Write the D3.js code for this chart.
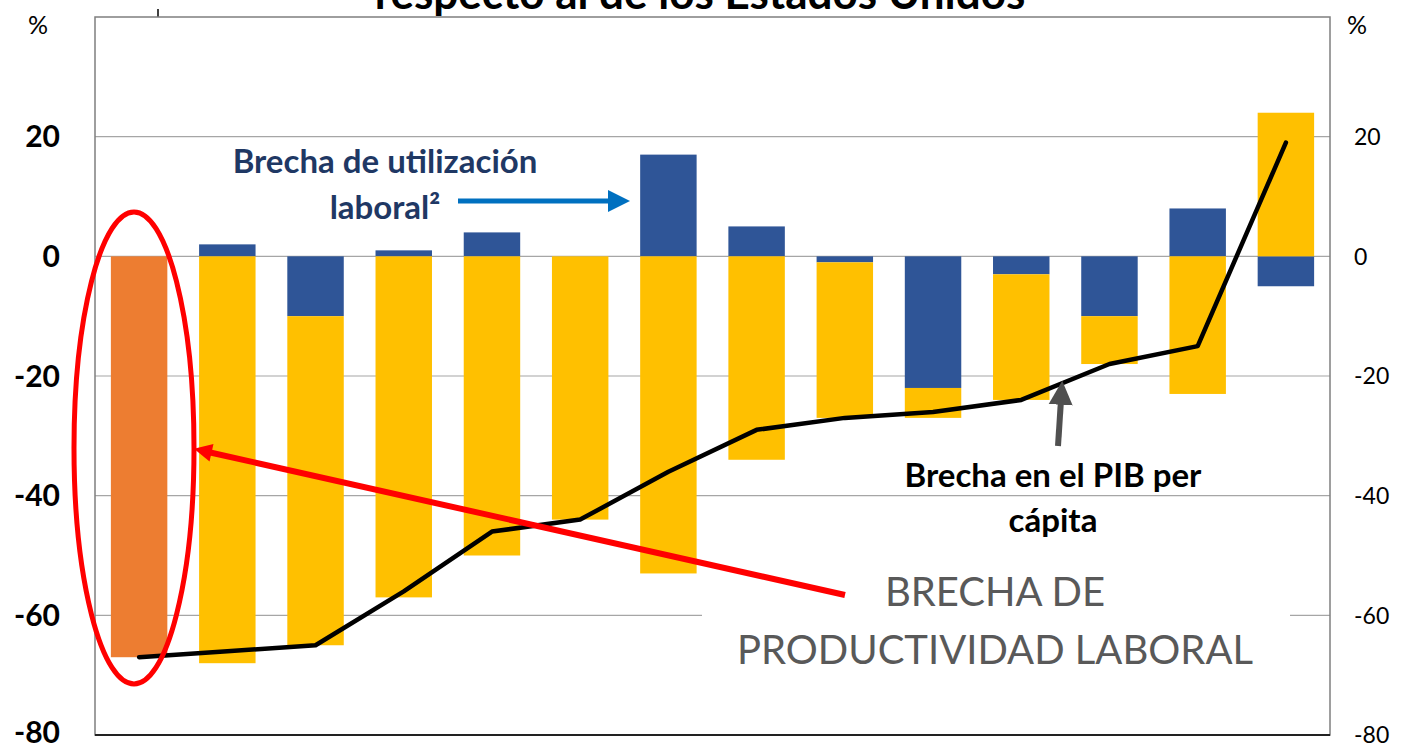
<!DOCTYPE html>
<html>
<head>
<meta charset="utf-8">
<script src="https://cdn.jsdelivr.net/npm/d3@7"></script>
<style>
  body { margin: 0; background: #fff; }
  svg { font-family: Lato, "Open Sans", sans-serif; }
</style>
</head>
<body>
<div id="chart"></div>
<script>
// 14 economies, ordered by GDP per capita gap
const categories = ["c1", "c2", "c3", "c4", "c5", "c6", "c7", "c8", "c9", "c10", "c11", "c12", "c13", "c14"];
const utilGap = [0, 2, -10, 1, 4, 0, 17, 5, -1, -22, -3, -10, 8, -5];
const prodGap = [-67, -68, -55, -57, -50, -44, -53, -34, -26, -5, -21, -8, -23, 24];
const gdpGap = [-67, -66, -65, -56, -46, -44, -36, -29, -27, -26, -24, -18, -15, 19];
const yTicks = [20, 0, -20, -40, -60, -80];

const width = 1403, height = 751;
const margin = { top: 17, right: 73, bottom: 16, left: 95 };

const svg = d3.select("#chart").append("svg")
    .attr("width", width)
    .attr("height", height);

const x = d3.scaleBand()
    .domain(categories)
    .range([margin.left, width - margin.right])
    .paddingInner(0.36)
    .paddingOuter(0.18);

const y = d3.scaleLinear()
    .domain([-80, 40])
    .range([height - margin.bottom, margin.top]);

// Title, clipped at the top of the picture as in the source
svg.append("text")
    .attr("x", 700).attr("y", 9)
    .attr("text-anchor", "middle")
    .attr("font-size", 44).attr("font-weight", "bold")
    .text("respecto al de los Estados Unidos");
svg.append("line")
    .attr("x1", 158).attr("x2", 158).attr("y1", 9).attr("y2", margin.top)
    .attr("stroke", "#000").attr("stroke-width", 1.5);

// Gridlines
svg.append("g")
    .selectAll("line")
    .data(yTicks.filter(d => d > -80))
    .join("line")
    .attr("x1", margin.left).attr("x2", width - margin.right)
    .attr("y1", d => y(d)).attr("y2", d => y(d))
    .attr("stroke", "#a6a6a6").attr("stroke-width", 1.2);

// Plot border
svg.append("rect")
    .attr("x", margin.left).attr("y", margin.top)
    .attr("width", width - margin.right - margin.left)
    .attr("height", y(-80) - margin.top)
    .attr("fill", "none").attr("stroke", "#7f7f7f").attr("stroke-width", 1.5);
svg.append("line")
    .attr("x1", margin.left).attr("x2", width - margin.right)
    .attr("y1", y(-80)).attr("y2", y(-80))
    .attr("stroke", "#222").attr("stroke-width", 2);

// White box behind the big label
svg.append("rect")
    .attr("x", 702).attr("y", 568)
    .attr("width", 588).attr("height", 122)
    .attr("fill", "#fff");

// Stacked bars (diverging)
const rows = categories.map((c, i) => ({ cat: c, util: utilGap[i], prod: prodGap[i] }));
const series = d3.stack()
    .keys(["util", "prod"])
    .offset(d3.stackOffsetDiverging)(rows);
const colors = { util: "#2F5597", prod: "#FFC000" };

svg.append("g")
    .selectAll("g")
    .data(series)
    .join("g")
    .selectAll("rect")
    .data(s => s.map(d => ({ key: s.key, d })))
    .join("rect")
    .attr("x", p => x(p.d.data.cat))
    .attr("width", x.bandwidth())
    .attr("y", p => y(Math.max(p.d[0], p.d[1])))
    .attr("height", p => Math.abs(y(p.d[0]) - y(p.d[1])))
    .attr("fill", p => (p.key === "prod" && p.d.data.cat === "c1") ? "#ED7D31" : colors[p.key]);

// GDP per capita gap line
const line = d3.line()
    .x((d, i) => x(categories[i]) + x.bandwidth() / 2)
    .y(d => y(d));
svg.append("path")
    .datum(gdpGap)
    .attr("d", line)
    .attr("fill", "none")
    .attr("stroke", "#000")
    .attr("stroke-width", 4.5)
    .attr("stroke-linejoin", "round")
    .attr("stroke-linecap", "round");

// Left axis (bold)
svg.append("g")
    .selectAll("text")
    .data(yTicks)
    .join("text")
    .attr("x", 60).attr("y", d => Math.min(y(d), 732))
    .attr("dy", "0.35em")
    .attr("text-anchor", "end")
    .attr("font-size", 30).attr("font-weight", "bold")
    .text(d => d);
svg.append("text")
    .attr("x", 38).attr("y", 34)
    .attr("text-anchor", "middle").attr("font-size", 25)
    .text("%");

// Right axis
svg.append("g")
    .selectAll("text")
    .data(yTicks)
    .join("text")
    .attr("x", 1354).attr("y", d => y(d))
    .attr("dy", "0.36em")
    .attr("font-size", 23)
    .text(d => d);
svg.append("text")
    .attr("x", 1357).attr("y", 34)
    .attr("text-anchor", "middle").attr("font-size", 25)
    .text("%");

// Arrowheads
const defs = svg.append("defs");
function marker(id, color, w, h) {
    defs.append("marker")
        .attr("id", id)
        .attr("viewBox", "0 0 10 10")
        .attr("refX", 2).attr("refY", 5)
        .attr("markerWidth", w).attr("markerHeight", h)
        .attr("markerUnits", "strokeWidth")
        .attr("orient", "auto")
        .append("path")
        .attr("d", "M0,0 L10,5 L0,10 Z")
        .attr("fill", color);
}
marker("arrBlue", "#0070C0", 4.5, 5);
marker("arrGrey", "#505050", 4, 4.5);
marker("arrRed", "#FF0000", 3.5, 3);

// Utilisation gap label + arrow
svg.append("text")
    .attr("x", 385).attr("y", 173).attr("text-anchor", "middle")
    .attr("font-size", 33).attr("font-weight", "bold").attr("fill", "#1F3864")
    .text("Brecha de utilización");
svg.append("text")
    .attr("x", 385).attr("y", 219).attr("text-anchor", "middle")
    .attr("font-size", 33).attr("font-weight", "bold").attr("fill", "#1F3864")
    .text("laboral²");
svg.append("line")
    .attr("x1", 458).attr("y1", 201).attr("x2", 612).attr("y2", 201)
    .attr("stroke", "#0070C0").attr("stroke-width", 5)
    .attr("marker-end", "url(#arrBlue)");

// GDP gap label + arrow
svg.append("text")
    .attr("x", 1053).attr("y", 487).attr("text-anchor", "middle")
    .attr("font-size", 33).attr("font-weight", "bold")
    .text("Brecha en el PIB per");
svg.append("text")
    .attr("x", 1053).attr("y", 532).attr("text-anchor", "middle")
    .attr("font-size", 33).attr("font-weight", "bold")
    .text("cápita");
svg.append("line")
    .attr("x1", 1058).attr("y1", 446).attr("x2", 1061).attr("y2", 400)
    .attr("stroke", "#505050").attr("stroke-width", 6)
    .attr("marker-end", "url(#arrGrey)");

// Labour productivity label
svg.append("text")
    .attr("x", 995).attr("y", 606).attr("text-anchor", "middle")
    .attr("font-size", 40).attr("fill", "#595959")
    .text("BRECHA DE");
svg.append("text")
    .attr("x", 995).attr("y", 664).attr("text-anchor", "middle")
    .attr("font-size", 40).attr("fill", "#595959")
    .text("PRODUCTIVIDAD LABORAL");

// Red ellipse around first bar and red arrow
svg.append("ellipse")
    .attr("cx", 134).attr("cy", 448)
    .attr("rx", 60).attr("ry", 236)
    .attr("fill", "none").attr("stroke", "#FF0000").attr("stroke-width", 5);
svg.append("line")
    .attr("x1", 845).attr("y1", 595).attr("x2", 208).attr("y2", 452)
    .attr("stroke", "#FF0000").attr("stroke-width", 6)
    .attr("marker-end", "url(#arrRed)");
</script>
</body>
</html>
